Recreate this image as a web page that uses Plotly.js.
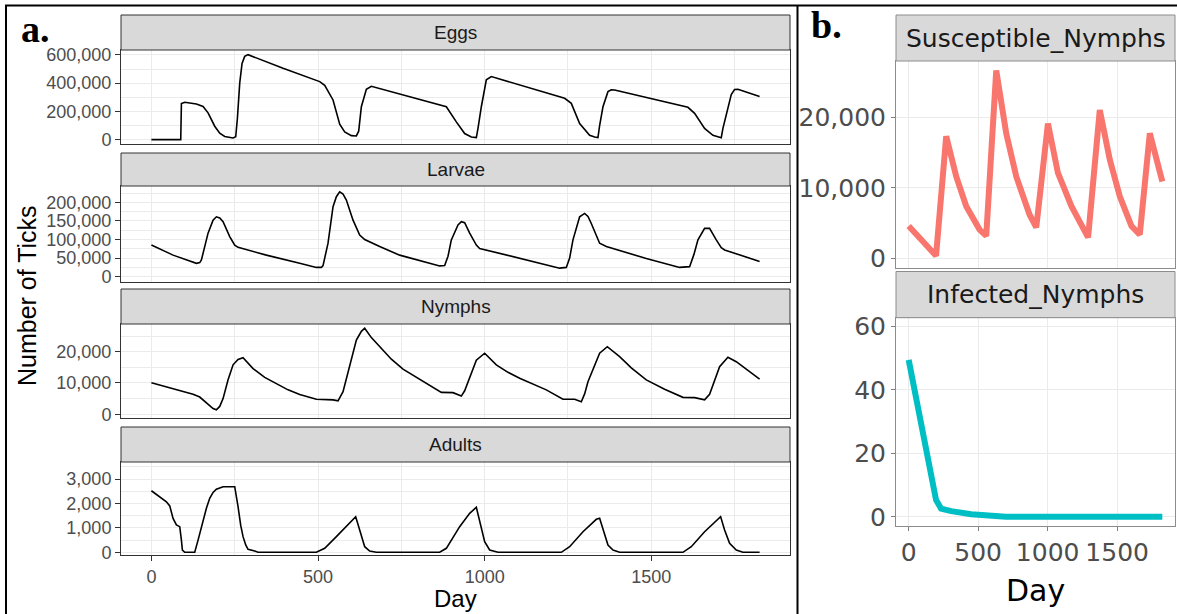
<!DOCTYPE html>
<html>
<head>
<meta charset="utf-8">
<script src="https://cdn.plot.ly/plotly-3.0.1.min.js"></script>
<style>
  html, body { margin: 0; padding: 0; background: #ffffff; overflow: hidden; }
  #plot { width: 1177px; height: 614px; }
</style>
</head>
<body>
<div id="plot"></div>
<script>
// ---------------- DATA ----------------
// Panel a: Eggs
const eggsDay = [0, 88, 90, 100, 135, 155, 170, 190, 205, 220, 245, 253, 258, 265, 272, 280, 290, 395, 505, 520, 545, 565, 580, 600, 615, 622, 630, 645, 660, 865, 885, 915, 940, 960, 975, 980, 990, 1005, 1020, 1240, 1260, 1285, 1315, 1330, 1340, 1345, 1355, 1370, 1380, 1390, 1610, 1630, 1660, 1685, 1700, 1710, 1715, 1725, 1740, 1750, 1760, 1825];
const eggsVal = [0, 0, 255000, 265000, 252000, 235000, 190000, 95000, 45000, 22000, 12000, 20000, 150000, 400000, 540000, 590000, 602000, 505000, 411000, 385000, 281000, 110000, 55000, 28000, 26000, 60000, 233000, 357000, 378000, 250000, 233000, 126000, 43000, 18000, 14000, 80000, 233000, 424000, 447000, 293000, 257000, 114000, 31000, 18000, 14000, 100000, 233000, 340000, 353000, 352000, 229000, 186000, 79000, 31000, 18000, 14000, 80000, 186000, 320000, 355000, 357000, 305000];

// Panel a: Larvae
const larvaeDay = [0, 65, 135, 145, 150, 160, 170, 185, 195, 205, 215, 235, 250, 260, 345, 445, 495, 510, 515, 530, 545, 555, 565, 575, 585, 605, 625, 640, 685, 745, 865, 880, 890, 900, 920, 930, 940, 955, 975, 985, 1085, 1225, 1245, 1255, 1265, 1285, 1300, 1310, 1320, 1345, 1365, 1485, 1585, 1615, 1628, 1640, 1660, 1675, 1695, 1710, 1720, 1825];
const larvaeVal = [85000, 58000, 36000, 38000, 45000, 80000, 117000, 152000, 161000, 158000, 148000, 108000, 85000, 79000, 58000, 36000, 25000, 25000, 30000, 90000, 188000, 215000, 228000, 222000, 206000, 152000, 112000, 100000, 81000, 58000, 29000, 30000, 55000, 99000, 139000, 148000, 145000, 117000, 85000, 76000, 54000, 23000, 25000, 50000, 99000, 161000, 170000, 162000, 143000, 90000, 81000, 49000, 25000, 27000, 60000, 99000, 130000, 130000, 99000, 78000, 72000, 41000];

// Panel a: Nymphs
const nymphsDay = [0, 125, 145, 165, 185, 195, 205, 215, 230, 245, 260, 275, 290, 305, 340, 375, 410, 445, 495, 545, 560, 575, 595, 615, 630, 640, 660, 685, 720, 755, 815, 870, 905, 930, 940, 950, 975, 1000, 1035, 1070, 1105, 1185, 1235, 1270, 1290, 1300, 1310, 1345, 1368, 1405, 1440, 1485, 1540, 1595, 1630, 1660, 1675, 1705, 1730, 1755, 1825];
const nymphsVal = [10100, 6400, 5500, 3500, 1800, 1400, 2500, 5000, 11000, 15800, 17500, 18100, 16200, 14600, 11800, 9700, 7800, 6300, 4800, 4600, 4300, 7200, 15500, 23700, 26500, 27500, 24500, 21600, 17600, 14400, 10400, 7000, 6900, 5800, 7500, 10400, 17300, 19500, 15800, 13400, 11500, 7800, 4800, 4800, 4000, 6500, 10400, 19500, 21600, 18400, 14800, 11000, 8000, 5400, 5300, 4600, 6400, 15200, 18200, 16800, 11200];

// Panel a: Adults
const adultsDay = [0, 45, 55, 65, 75, 85, 90, 93, 100, 130, 140, 150, 165, 175, 185, 195, 215, 250, 255, 260, 268, 275, 283, 290, 310, 320, 495, 520, 555, 585, 613, 625, 640, 655, 675, 865, 885, 925, 955, 975, 985, 1000, 1015, 1040, 1230, 1255, 1295, 1335, 1345, 1355, 1370, 1385, 1405, 1595, 1620, 1660, 1700, 1708, 1720, 1735, 1755, 1775, 1825];
const adultsVal = [2520, 2070, 1900, 1390, 1120, 1050, 500, 94, 0, 0, 500, 1050, 1800, 2210, 2450, 2580, 2685, 2685, 2300, 1866, 1100, 640, 300, 123, 50, 0, 0, 164, 640, 1076, 1457, 912, 229, 50, 0, 0, 164, 1050, 1596, 1842, 1322, 434, 94, 0, 0, 229, 843, 1350, 1392, 912, 299, 94, 0, 0, 229, 843, 1392, 1460, 912, 366, 94, 0, 0];

// Panel b: Susceptible_Nymphs
const suscDay = [0, 197, 270, 342, 414, 510, 558, 630, 702, 774, 870, 918, 1002, 1074, 1171, 1250, 1291, 1375, 1447, 1519, 1603, 1663, 1735, 1825];
const suscVal = [4600, 400, 17300, 11600, 7400, 4100, 3200, 26600, 17700, 11600, 6200, 4400, 19100, 12100, 7400, 4300, 3000, 21000, 14000, 8800, 4600, 3400, 17700, 10900];

// Panel b: Infected_Nymphs
const infDay = [0, 197, 233, 306, 450, 700, 1825];
const infVal = [49.5, 5.3, 2.6, 1.8, 0.8, 0, 0];

// Labels
const stripA = ["Eggs", "Larvae", "Nymphs", "Adults"];
const stripB = ["Susceptible_Nymphs", "Infected_Nymphs"];
const panelLabels = ["a.", "b."];
const xTitle = "Day";
const yTitleA = "Number of Ticks";

// ---------------- LAYOUT ----------------
const W = 1177, H = 614;
const fx = v => v / W;
const fy = v => 1 - v / H;

const fontA = 'Liberation Sans, Arial, sans-serif';
const fontB = 'DejaVu Sans, Verdana, sans-serif';
const tickA = {family: fontA, size: 18, color: '#4d4d4d'};
const tickB = {family: fontB, size: 25, color: '#4d4d4d'};

const xDomA = [fx(121), fx(790)];
const xDomB = [fx(896), fx(1175)];
const xRange = [-91.25, 1916.25];

// panel rows: [strip top, strip bottom(=plot top), plot bottom]
const rowsA = [[15, 50, 144], [153, 186, 281.7], [289, 324, 418], [427, 462, 555]];
const rowsB = [[15, 61, 268], [271.5, 317.7, 526]];

const yRangesA = [[-31000, 635000], [-13400, 243800], [-1200, 28850], [-110, 3696]];
const yDtickA = [200000, 50000, 10000, 1000];
const yMinorA = [100000, 25000, 5000, 500];
const yRangesB = [[-1330, 27930], [-2.9, 62.8]];
const yDtickB = [10000, 20];

const layout = {
  width: W, height: H,
  margin: {l: 0, r: 0, t: 0, b: 0},
  paper_bgcolor: '#ffffff',
  plot_bgcolor: '#ffffff',
  showlegend: false,
  shapes: [],
  annotations: []
};

function xAxisA(i, showLabels) {
  return {
    domain: xDomA, range: xRange, anchor: 'y' + (i === 0 ? '' : i + 1),
    tickmode: 'linear', tick0: 0, dtick: 500, tickformat: 'd',
    showticklabels: showLabels, ticks: showLabels ? 'outside' : '',
    ticklen: 5, tickwidth: 1, tickcolor: '#333333', tickfont: tickA,
    showgrid: true, gridcolor: '#ebebeb', gridwidth: 1,
    minor: {tick0: 250, dtick: 500, showgrid: true, gridcolor: '#ebebeb', gridwidth: 1, ticks: ''},
    showline: true, mirror: true, linecolor: '#333333', linewidth: 1,
    zeroline: false, fixedrange: true
  };
}
function yAxisA(i) {
  const r = rowsA[i];
  return {
    domain: [fy(r[2]), fy(r[1])], range: yRangesA[i], anchor: 'x' + (i === 0 ? '' : i + 1),
    tickmode: 'linear', tick0: 0, dtick: yDtickA[i], tickformat: ',',
    ticks: 'outside', ticklen: 5, tickwidth: 1, tickcolor: '#333333', tickfont: tickA,
    showgrid: true, gridcolor: '#ebebeb', gridwidth: 1,
    minor: {tick0: 0, dtick: yMinorA[i], showgrid: true, gridcolor: '#ebebeb', gridwidth: 1, ticks: ''},
    showline: true, mirror: true, linecolor: '#333333', linewidth: 1,
    zeroline: false, fixedrange: true
  };
}
for (let i = 0; i < 4; i++) {
  const sfx = i === 0 ? '' : String(i + 1);
  layout['xaxis' + sfx] = xAxisA(i, i === 3);
  layout['yaxis' + sfx] = yAxisA(i);
}
function xAxisB(j, showLabels) {
  const n = 5 + j;
  return {
    domain: xDomB, range: xRange, anchor: 'y' + n,
    tickmode: 'linear', tick0: 0, dtick: 500, tickformat: 'd',
    showticklabels: showLabels, ticks: showLabels ? 'outside' : '',
    ticklen: 4, tickwidth: 1, tickcolor: '#7f7f7f', tickfont: tickB,
    showgrid: true, gridcolor: '#ebebeb', gridwidth: 1,
    showline: true, mirror: true, linecolor: '#8c8c8c', linewidth: 1,
    zeroline: false, fixedrange: true
  };
}
function yAxisB(j) {
  const n = 5 + j;
  const r = rowsB[j];
  return {
    domain: [fy(r[2]), fy(r[1])], range: yRangesB[j], anchor: 'x' + n,
    tickmode: 'linear', tick0: 0, dtick: yDtickB[j], tickformat: ',',
    ticks: 'outside', ticklen: 4, tickwidth: 1, tickcolor: '#7f7f7f', tickfont: tickB,
    showgrid: true, gridcolor: '#ebebeb', gridwidth: 1,
    showline: true, mirror: true, linecolor: '#8c8c8c', linewidth: 1,
    zeroline: false, fixedrange: true
  };
}
for (let j = 0; j < 2; j++) {
  layout['xaxis' + (5 + j)] = xAxisB(j, j === 1);
  layout['yaxis' + (5 + j)] = yAxisB(j);
}

// strips (panel a)
rowsA.forEach((r, i) => {
  layout.shapes.push({type: 'rect', xref: 'paper', yref: 'paper',
    x0: xDomA[0], x1: xDomA[1], y0: fy(r[1]), y1: fy(r[0]),
    fillcolor: '#d9d9d9', line: {color: '#333333', width: 1}, layer: 'above'});
  layout.annotations.push({xref: 'paper', yref: 'paper', x: (xDomA[0] + xDomA[1]) / 2,
    y: fy((r[0] + r[1]) / 2), xanchor: 'center', yanchor: 'middle', showarrow: false,
    text: stripA[i], font: {family: fontA, size: 19, color: '#1a1a1a'}});
});
// strips (panel b)
rowsB.forEach((r, j) => {
  layout.shapes.push({type: 'rect', xref: 'paper', yref: 'paper',
    x0: xDomB[0], x1: xDomB[1], y0: fy(r[1]), y1: fy(r[0]),
    fillcolor: '#d9d9d9', line: {color: '#8c8c8c', width: 1}, layer: 'above'});
  layout.annotations.push({xref: 'paper', yref: 'paper', x: (xDomB[0] + xDomB[1]) / 2,
    y: fy((r[0] + r[1]) / 2), xanchor: 'center', yanchor: 'middle', showarrow: false,
    text: stripB[j], font: {family: fontB, size: 25, color: '#1a1a1a'}});
});

// outer frame lines
const frame = {color: '#000000', width: 2};
layout.shapes.push({type: 'line', xref: 'paper', yref: 'paper', x0: fx(5), x1: 1, y0: fy(5.5), y1: fy(5.5), line: frame});
layout.shapes.push({type: 'line', xref: 'paper', yref: 'paper', x0: fx(6), x1: fx(6), y0: 0, y1: fy(5), line: frame});
layout.shapes.push({type: 'line', xref: 'paper', yref: 'paper', x0: fx(797.5), x1: fx(797.5), y0: 0, y1: fy(5), line: frame});

// axis titles & panel labels
layout.annotations.push({xref: 'paper', yref: 'paper', x: fx(27), y: fy(296), textangle: -90,
  xanchor: 'center', yanchor: 'middle', showarrow: false, text: yTitleA,
  font: {family: fontA, size: 25, color: '#000000'}});
layout.annotations.push({xref: 'paper', yref: 'paper', x: fx(455.5), y: fy(598),
  xanchor: 'center', yanchor: 'middle', showarrow: false, text: xTitle,
  font: {family: fontA, size: 24, color: '#000000'}});
layout.annotations.push({xref: 'paper', yref: 'paper', x: fx(1035.5), y: fy(590),
  xanchor: 'center', yanchor: 'middle', showarrow: false, text: xTitle,
  font: {family: fontB, size: 30, color: '#000000'}});
layout.annotations.push({xref: 'paper', yref: 'paper', x: fx(19), y: fy(29),
  xanchor: 'left', yanchor: 'middle', showarrow: false, text: '<b>' + panelLabels[0] + '</b>',
  font: {family: 'Liberation Serif, Times New Roman, serif', size: 38, color: '#000000'}});
layout.annotations.push({xref: 'paper', yref: 'paper', x: fx(809), y: fy(25),
  xanchor: 'left', yanchor: 'middle', showarrow: false, text: '<b>' + panelLabels[1] + '</b>',
  font: {family: 'Liberation Serif, Times New Roman, serif', size: 38, color: '#000000'}});

// ---------------- TRACES ----------------
const lineA = {color: '#000000', width: 1.6};
const traces = [
  {x: eggsDay, y: eggsVal, xaxis: 'x', yaxis: 'y', type: 'scatter', mode: 'lines', line: lineA, name: stripA[0]},
  {x: larvaeDay, y: larvaeVal, xaxis: 'x2', yaxis: 'y2', type: 'scatter', mode: 'lines', line: lineA, name: stripA[1]},
  {x: nymphsDay, y: nymphsVal, xaxis: 'x3', yaxis: 'y3', type: 'scatter', mode: 'lines', line: lineA, name: stripA[2]},
  {x: adultsDay, y: adultsVal, xaxis: 'x4', yaxis: 'y4', type: 'scatter', mode: 'lines', line: lineA, name: stripA[3]},
  {x: suscDay, y: suscVal, xaxis: 'x5', yaxis: 'y5', type: 'scatter', mode: 'lines', line: {color: '#F8766D', width: 6}, name: stripB[0]},
  {x: infDay, y: infVal, xaxis: 'x6', yaxis: 'y6', type: 'scatter', mode: 'lines', line: {color: '#00BFC4', width: 6}, name: stripB[1]}
];

Plotly.newPlot('plot', traces, layout, {displayModeBar: false, staticPlot: true});
</script>
</body>
</html>
